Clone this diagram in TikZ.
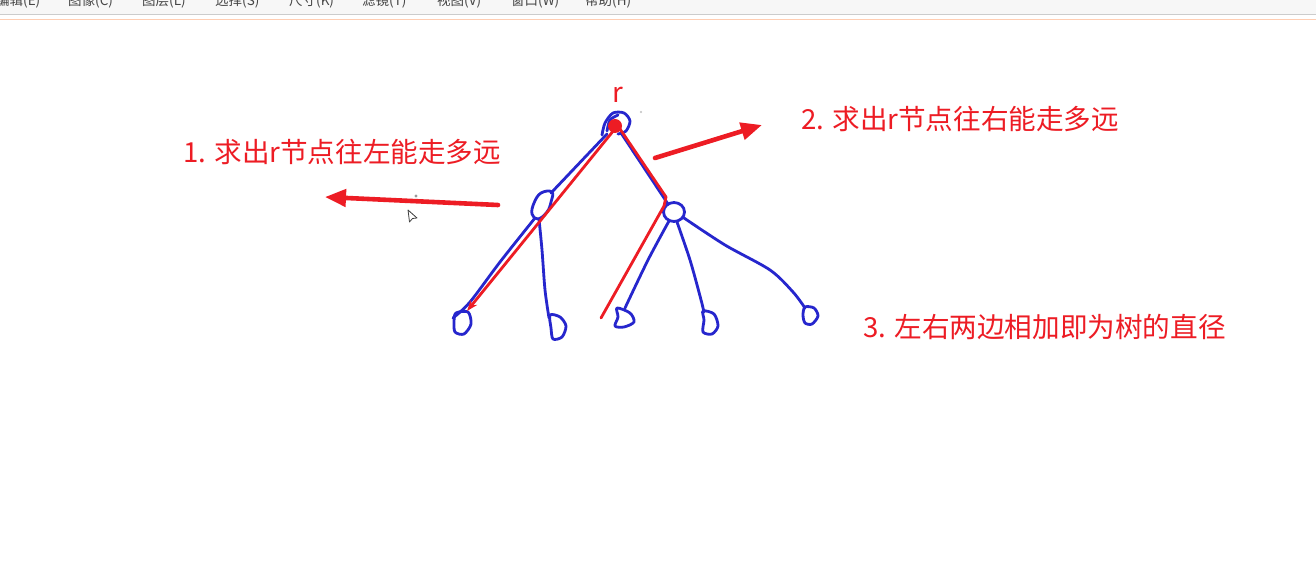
\documentclass[tikz,border=0pt]{standalone}
\usepackage{fontspec}
\setmainfont{Noto Sans CJK SC}
\usetikzlibrary{arrows.meta}
\definecolor{pred}{RGB}{237,28,36}
\definecolor{pblue}{RGB}{38,38,205}
\definecolor{menutext}{RGB}{70,70,70}
\begin{document}
\begin{tikzpicture}[x=1pt,y=-1pt,
  tree/.style={pblue, line width=2.8pt, line cap=round, line join=round},
  redpath/.style={pred, line width=2.8pt, line cap=round, line join=round},
  bigarrow/.style={pred, line width=4.6pt, line cap=round, -{Triangle[length=21pt,width=17pt]}},
  note/.style={text=pred, font=\fontsize{27.6}{30}\selectfont, anchor=base west, inner sep=0pt},
  menuitem/.style={text=menutext, font=\fontsize{13.5}{15}\selectfont, anchor=base west, inner sep=0pt}]
\useasboundingbox (0,0) rectangle (1316,580);
\fill[white] (0,0) rectangle (1316,580);
% menu bar
\fill[black!3] (0,0) rectangle (1316,14);
\draw[black!20, line width=1pt] (0,14.5) -- (1316,14.5);
\draw[red!30!orange!30, line width=1.5pt] (0,19.3) -- (1316,19.3);
\begin{scope}
\clip (0,0) rectangle (1316,13.5);
\node[menuitem] (m1) at (-4,6) {编辑(E)};
\node[menuitem] (m2) at (68,6) {图像(C)};
\node[menuitem] (m3) at (142,6) {图层(L)};
\node[menuitem] (m4) at (215,6) {选择(S)};
\node[menuitem] (m5) at (289,6) {尺寸(K)};
\node[menuitem] (m6) at (362,6) {滤镜(T)};
\node[menuitem] (m7) at (437,6) {视图(V)};
\node[menuitem] (m8) at (511,6) {窗口(W)};
\node[menuitem] (m9) at (585,6) {帮助(H)};
\end{scope}

% tree node positions
\coordinate (R) at (617,122);
\coordinate (A) at (543,205);
\coordinate (B) at (674,212);
\coordinate (L1) at (462,323);
\coordinate (L2) at (556,327);
\coordinate (L3) at (624,318);
\coordinate (L4) at (710,322);
\coordinate (L5) at (810,315);

% root loop
\draw[tree] plot[smooth] coordinates {(602,135) (605,123) (613,113) (624,113) (630,121) (626,131) (618,134)};
\draw[tree] plot[smooth] coordinates {(607,131) (610,120) (618,115)};
% red dot at root
\fill[pred] (615,126) circle (7);
% edges from root
\draw[tree] (607,134) -- (551,193);
\draw[tree] (621,133) -- (668,204);
% left child loop
\draw[tree] plot[smooth cycle, tension=0.7] coordinates {(552,192) (541,193) (534,203) (532,214) (538,219) (547,212) (551,202)};
% left child edges
\draw[tree] plot[smooth] coordinates {(535,218) (500,262) (470,302) (453,318)};
\draw[tree] plot[smooth] coordinates {(539,219) (542,250) (545,290) (549,318)};
% right child loop
\draw[tree] (B) ellipse [x radius=10.5, y radius=9.5];
% right child edges
\draw[tree] plot[smooth] coordinates {(669,221) (648,260) (625,308)};
\draw[tree] plot[smooth] coordinates {(677,222) (690,260) (700,296) (704,312)};
\draw[tree] plot[smooth] coordinates {(684,218) (725,245) (770,270) (793,292) (805,308)};
% leaves
\draw[tree] plot[smooth cycle] coordinates {(456,313) (468,312) (471,324) (464,334) (455,332) (454,321)};
\draw[tree] plot[smooth cycle] coordinates {(550,315) (560,317) (566,326) (562,337) (553,339) (551,328)};
\draw[tree] plot[smooth cycle] coordinates {(617,308) (630,313) (634,322) (624,327) (615,326) (618,317)};
\draw[tree] plot[smooth cycle] coordinates {(703,311) (714,314) (718,326) (712,334) (703,332) (704,320)};
\draw[tree] plot[smooth cycle] coordinates {(805,307) (814,308) (818,316) (812,324) (805,323) (803,315)};

% red paths
\draw[redpath, -{Stealth[length=11pt,width=8pt]}] (614,130) -- (467,311);
\draw[redpath] (620,129) -- (666,197) -- (664,206) -- (601,318);

% big arrows
\coordinate (la1) at (498,205);
\coordinate (la2) at (325,197);
\coordinate (ra1) at (655,158);
\coordinate (ra2) at (762,125);
\draw[bigarrow] (la1) -- (la2);
\draw[bigarrow] (ra1) -- (ra2);

% labels
\node[text=pred, font=\fontsize{27.6}{30}\selectfont, anchor=base, inner sep=0pt] (rl) at (618,103) {r};
\node[note] (t1) at (183,163) {1. 求出r节点往左能走多远};
\node[note] (t2) at (801,130) {2. 求出r节点往右能走多远};
\node[note] (t3) at (863,337) {3. 左右两边相加即为树的直径};

% small gray dots and cursor
\fill[black!40] (416,196) circle (1.6);
\fill[black!25] (641,112) circle (1.2);
\draw[black!75, fill=white, line width=0.8pt, line join=round] (408,210) -- (417,218) -- (412.5,218.5) -- (409.5,222) -- cycle;
\end{tikzpicture}
\end{document}
